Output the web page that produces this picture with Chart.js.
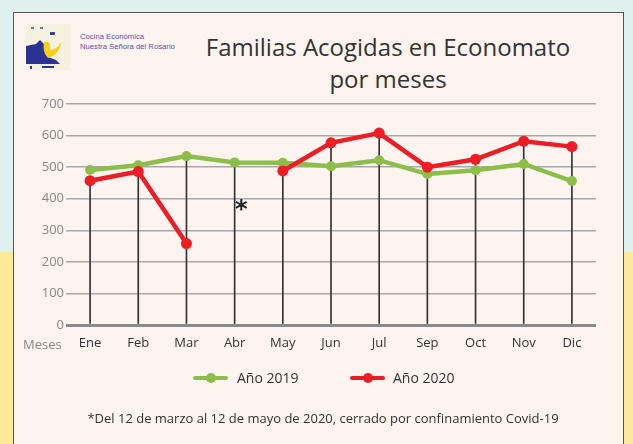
<!DOCTYPE html>
<html><head><meta charset="utf-8">
<script src="https://cdn.jsdelivr.net/npm/chart.js@4"></script>
<style>
html,body{margin:0;padding:0;}
body{width:633px;height:444px;position:relative;overflow:hidden;background:#dff0ee;font-family:"Open Sans",sans-serif;}
#yellow{position:absolute;left:0;top:252px;width:633px;height:192px;background:#fce99c;}
#panel{position:absolute;left:13px;top:12px;width:611px;height:440px;background:#fdf4f0;border:1.5px solid #555;box-sizing:border-box;}
#wrap{position:absolute;left:0;top:0;width:633px;height:444px;}
.t{position:absolute;white-space:nowrap;}
#title{left:0;width:776px;top:31px;text-align:center;font-size:24px;line-height:32px;color:#333;}
#org{left:80px;top:32px;font-family:"Liberation Sans",Arial,sans-serif;font-size:7.7px;line-height:10px;color:#5a4fb5;}
#meses{left:23px;top:335px;font-size:13px;color:#888;}
#ast{left:235px;top:195px;font-size:24px;font-weight:bold;color:#222;font-family:"DejaVu Sans",sans-serif;}
#foot{left:0;width:646px;top:409px;text-align:center;font-size:13px;color:#333;}
.leg{position:absolute;top:368px;font-size:14px;color:#333;}
.mk{position:absolute;top:376px;height:4px;width:35px;border-radius:2px;}
.dot{position:absolute;top:373px;width:10px;height:10px;border-radius:5px;}
</style></head>
<body>
<div id="yellow"></div>
<div id="panel"></div>
<svg style="position:absolute;left:26px;top:24px" width="44" height="46" viewBox="0 0 44 46">
<rect width="44" height="46" fill="#f4f1df"/>
<path d="M0 22 L10 20 L14 16 L20 22 L22 33 L30 36 L34 40 L0 40 Z" fill="#2a3391"/>
<path d="M18 18 Q26 16 24 26 Q30 26 36 18 Q32 32 22 34 Q16 28 18 18 Z" fill="#f5cf1a"/>
<rect x="5" y="3" width="3" height="2" fill="#6a72b8"/><rect x="14" y="3" width="3" height="2" fill="#6a72b8"/>
<rect x="24" y="8" width="5" height="3" fill="#3a4195"/><rect x="4" y="42" width="2" height="3" fill="#2a3391"/>
<rect x="16" y="42" width="12" height="2" fill="#2a3391"/>
</svg>
<div class="t" id="org">Cocina Económica<br>Nuestra Señora del Rosario</div>
<div class="t" id="title">Familias Acogidas en Economato<br>por meses</div>
<div id="wrap"><canvas id="c" width="633" height="444"></canvas></div>
<div class="t" id="meses">Meses</div>
<div class="t" id="ast">*</div>
<div class="mk" style="left:193px;background:#8bbf4a"></div><div class="dot" style="left:206px;background:#8bbf4a"></div>
<div class="leg" style="left:237px">Año 2019</div>
<div class="mk" style="left:350px;background:#ee1c25"></div><div class="dot" style="left:363px;background:#ee1c25"></div>
<div class="leg" style="left:393px">Año 2020</div>
<div class="t" id="foot">*Del 12 de marzo al 12 de mayo de 2020, cerrado por confinamiento Covid-19</div>
<script>
const months = ["Ene","Feb","Mar","Abr","May","Jun","Jul","Sep","Oct","Nov","Dic"];
const values2019 = [491,506,535,515,514,503,522,478,490,510,456];
const values2020 = [457,486,258,null,488,577,608,500,525,582,565];
const dropLines = [457,486,535,515,488,577,608,500,525,582,565];
const yTicks = [0,100,200,300,400,500,600,700];

new Chart(document.getElementById('c'), {
  data: {
    labels: months,
    datasets: [
      {type:'line', label:'Año 2019', data: values2019, borderColor:'#8bbf4a', backgroundColor:'#8bbf4a', borderWidth:4.5, pointRadius:5, pointBorderWidth:0, tension:0, order:1},
      {type:'line', label:'Año 2020', data: values2020, borderColor:'#ee1c25', backgroundColor:'#ee1c25', borderWidth:4.5, pointRadius:5.5, pointBorderWidth:0, tension:0, spanGaps:false, order:0},
      {type:'bar', label:'drop', data: dropLines, backgroundColor:'#333333', barThickness:1, order:2}
    ]
  },
  options: {
    responsive:false, animation:false,
    layout:{padding:{left:0,right:37,top:104,bottom:79}},
    plugins:{legend:{display:false}, tooltip:{enabled:false}},
    scales:{
      x:{offset:true, grid:{display:false, drawTicks:false}, border:{display:false},
         ticks:{color:'#333', font:{family:'Open Sans', size:13}, padding:10},
         afterFit(s){ s.height = 40; }},
      y:{min:0, max:700, border:{display:false},
         afterBuildTicks(s){ s.ticks = yTicks.map(v=>({value:v})); },
         afterFit(s){ s.width = 66; },
         grid:{drawTicks:false, color:(c)=> c.tick && c.tick.value===0 ? '#8a8a8a' : '#a8a8a8', lineWidth:(c)=> c.tick && c.tick.value===0 ? 3 : 1.5},
         ticks:{color:'#888', font:{family:'Open Sans', size:13}, padding:2}}
    }
  }
});
</script>
</body></html>
